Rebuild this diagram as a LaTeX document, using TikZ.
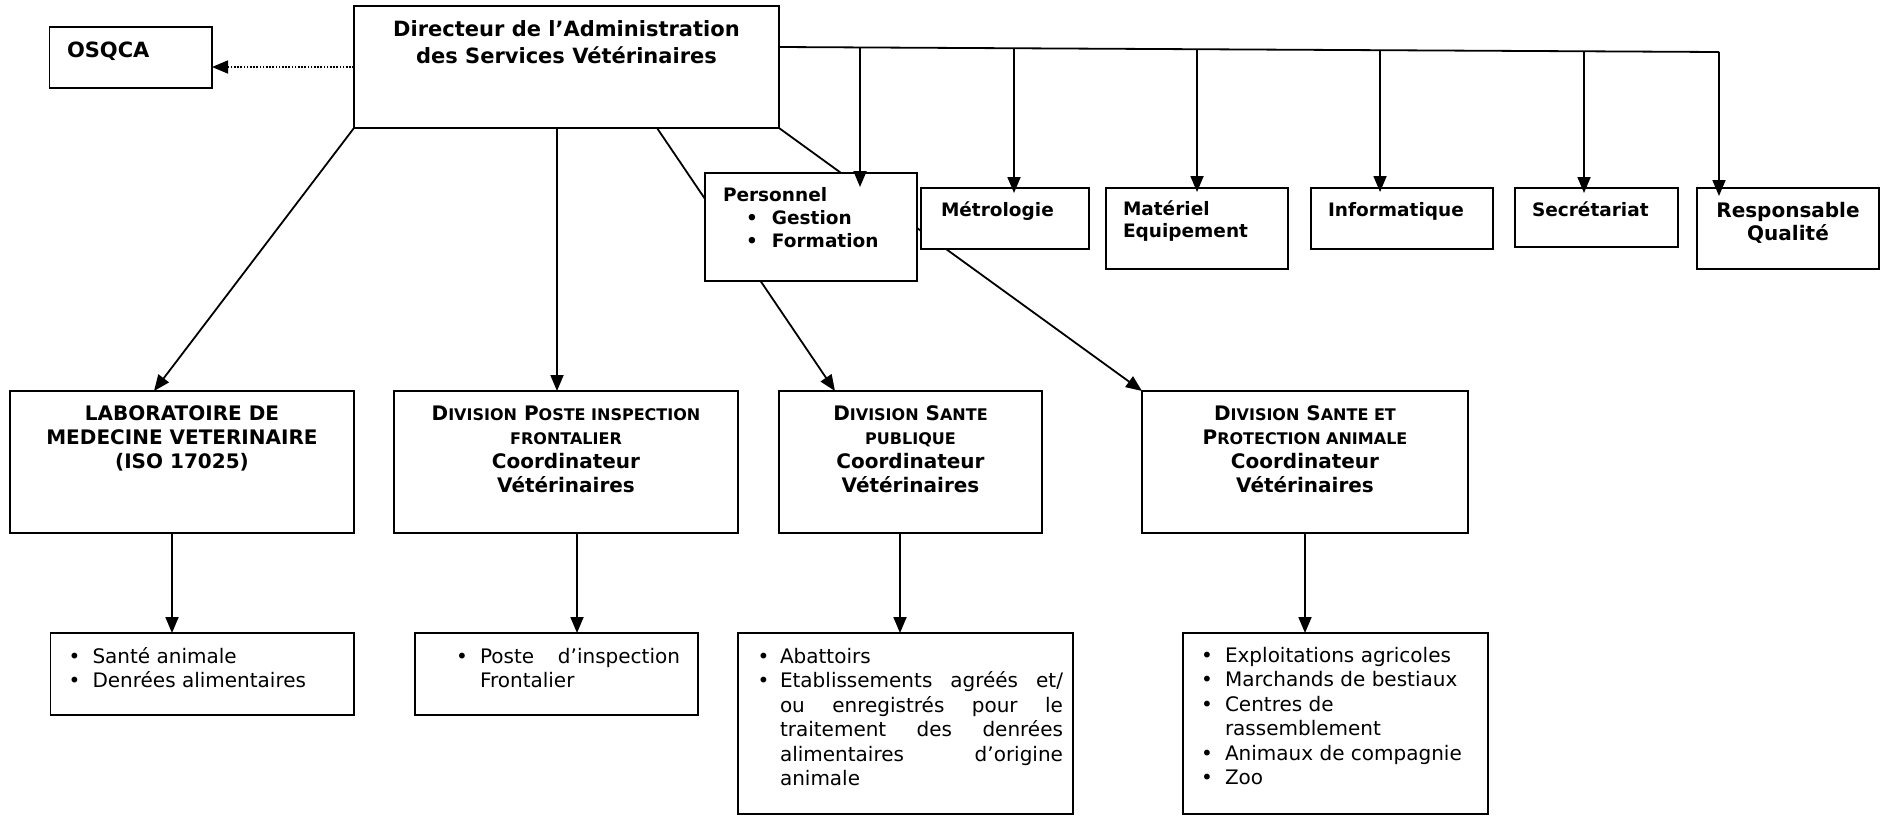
\documentclass[tikz,border=0pt]{standalone}
\usepackage{fontspec}
\setmainfont{DejaVu Sans}
\usetikzlibrary{arrows.meta,calc}
\pgfdeclarelayer{bg}
\pgfsetlayers{bg,main}
\newcommand\bxt[3]{\parbox[c][#2pt][t]{#1pt}{\sloppy\hyphenpenalty=10000\exhyphenpenalty=10000 #3}}
\newcommand\fb[1][29]{\rule{0pt}{#1pt}}
\newcommand\smc[1]{{\fontsize{16}{24}\selectfont #1}}
\newcommand\itm[3]{\par\noindent\hangindent=#2pt\hangafter=1\hspace*{#1pt}\makebox[\dimexpr#2pt-#1pt\relax][l]{\textbullet}#3}
\newcommand\fR{\fontsize{20}{24.5}\selectfont}
\newcommand\fBd{\fontsize{20}{24.3}\selectfont\bfseries}
\newcommand\fBs{\fontsize{18.5}{22.8}\selectfont\bfseries}
\begin{document}
\begin{tikzpicture}[x=1pt,y=-1pt,
  box/.style={draw, fill=white, line width=1.8pt, inner sep=0pt, outer sep=0pt, anchor=north west},
  line/.style={line width=1.8pt},
  arr/.style={line, -{Triangle[length=16pt,width=13pt]}},
  dots/.style={line width=1.6pt, dash pattern=on 1.6pt off 1.6pt, -{Triangle[length=16pt,width=13pt]}}]
\useasboundingbox (0,0) rectangle (1883,815);
% top row
\node[box] (osq) at (49.5,27) {\bxt{162.5}{61}{\raggedright\leftskip=17.5pt\fontsize{21}{25}\selectfont\bfseries\fb[30.3]OSQCA}};
\node[box] (dir) at (354,6) {\bxt{425}{122}{\centering\fontsize{21}{26.6}\selectfont\bfseries\fb[30.7]Directeur de l’Administration\\ des Services Vétérinaires}};
\node[box] (pers) at (705,173) {\bxt{212}{108}{\raggedright\fBs{\leftskip=18pt\fb[28.7]Personnel\par}\itm{41}{67}{Gestion}\itm{41}{67}{Formation}}};
\node[box] (metro) at (921,188) {\bxt{168}{61}{\raggedright\leftskip=20pt\fBs\fb[28.7]Métrologie}};
\node[box] (mat) at (1106,188) {\bxt{182}{81}{\raggedright\leftskip=17pt\fBs\fb[27]Matériel\\Equipement}};
\node[box] (info) at (1311,188) {\bxt{182}{61}{\raggedright\leftskip=17pt\fBs\fb[28.7]Informatique}};
\node[box] (sec) at (1515,188) {\bxt{163}{59}{\raggedright\leftskip=17pt\fBs\fb[28.7]Secrétariat}};
\node[box] (resp) at (1697,188) {\bxt{182}{81}{\centering\fontsize{20}{23.4}\selectfont\bfseries\fb[29.3]Responsable\\Qualité}};
% second row
\node[box] (lab) at (10,391) {\bxt{344}{142}{\centering\fBd\fb LABORATOIRE DE\\MEDECINE VETERINAIRE\\(ISO 17025)}};
\node[box] (poste) at (394,391) {\bxt{344}{142}{\centering\fBd\fb D\smc{IVISION} P\smc{OSTE INSPECTION}\\\smc{FRONTALIER}\\Coordinateur\\Vétérinaires}};
\node[box] (spub) at (779,391) {\bxt{263}{142}{\centering\fBd\fb D\smc{IVISION} S\smc{ANTE}\\\smc{PUBLIQUE}\\Coordinateur\\Vétérinaires}};
\node[box] (sprot) at (1142,391) {\bxt{326}{142}{\centering\fBd\fb D\smc{IVISION} S\smc{ANTE ET}\\P\smc{ROTECTION ANIMALE}\\Coordinateur\\Vétérinaires}};
% third row
\node[box] (b1) at (50.5,633) {\bxt{303.5}{82}{\raggedright\fR\itm{18}{42}{\fb[30]Santé animale}\itm{18}{42}{Denrées alimentaires}}};
\node[box] (b2) at (415,633) {\bxt{283}{82}{\rightskip=18pt\fR\itm{41}{65}{\fb[30]Poste d’inspection\linebreak Frontalier}}};
\node[box] (b3) at (738,633) {\bxt{335}{181}{\rightskip=10pt\fR\itm{19.6}{42}{\fb[30]Abattoirs}\itm{19.6}{42}{Etablissements agréés et/\linebreak ou enregistrés pour le\linebreak traitement des denrées\linebreak alimentaires d’origine\linebreak animale}}};
\node[box] (b4) at (1183,633) {\bxt{305}{181}{\raggedright\fR\itm{18}{42}{\fb[29]Exploitations agricoles}\itm{18}{42}{Marchands de bestiaux}\itm{18}{42}{Centres de\linebreak rassemblement}\itm{18}{42}{Animaux de compagnie}\itm{18}{42}{Zoo}}};
% connectors
\begin{pgfonlayer}{bg}
\draw[dots] (dir.west) -- (osq.east |- dir.west);
\draw[arr] (dir.south west) -- ($(lab.north west)+(144,0)$);
\draw[arr] ($(dir.south west)+(203,0)$) -- ($(poste.north west)+(163,0)$);
\draw[arr] ($(dir.south west)+(303,0)$) -- ($(spub.north west)+(56,0)$);
\draw[arr] (dir.south east) -- (sprot.north west);
\coordinate (bl) at ($(dir.north east)+(0,41)$);
\coordinate (br) at ($(resp.north west)+(22,-136)$);
\draw[line] (bl) -- (br);
\draw[arr] ($(lab.south west)+(162,0)$) -- ($(b1.north west)+(121.5,0)$);
\draw[arr] ($(poste.south west)+(183,0)$) -- ($(b2.north west)+(162,0)$);
\draw[arr] ($(spub.south west)+(121,0)$) -- ($(b3.north west)+(162,0)$);
\draw[arr] (sprot.south) -- ($(b4.north west)+(122,0)$);
\end{pgfonlayer}
\coordinate (p1) at ($(bl)!0.0862!(br)$);
\coordinate (p2) at ($(bl)!0.25!(br)$);
\coordinate (p3) at ($(bl)!0.4447!(br)$);
\coordinate (p4) at ($(bl)!0.6394!(br)$);
\coordinate (p5) at ($(bl)!0.8564!(br)$);
\draw[arr, shorten >=-14pt] (p1) -- (p1 |- pers.north);
\draw[arr, shorten >=-5pt] (p2) -- (p2 |- metro.north);
\draw[arr, shorten >=-4pt] (p3) -- (p3 |- mat.north);
\draw[arr, shorten >=-4pt] (p4) -- (p4 |- info.north);
\draw[arr, shorten >=-5pt] (p5) -- (p5 |- sec.north);
\draw[arr, shorten >=-8pt] (br) -- (br |- resp.north);
\end{tikzpicture}
\end{document}
